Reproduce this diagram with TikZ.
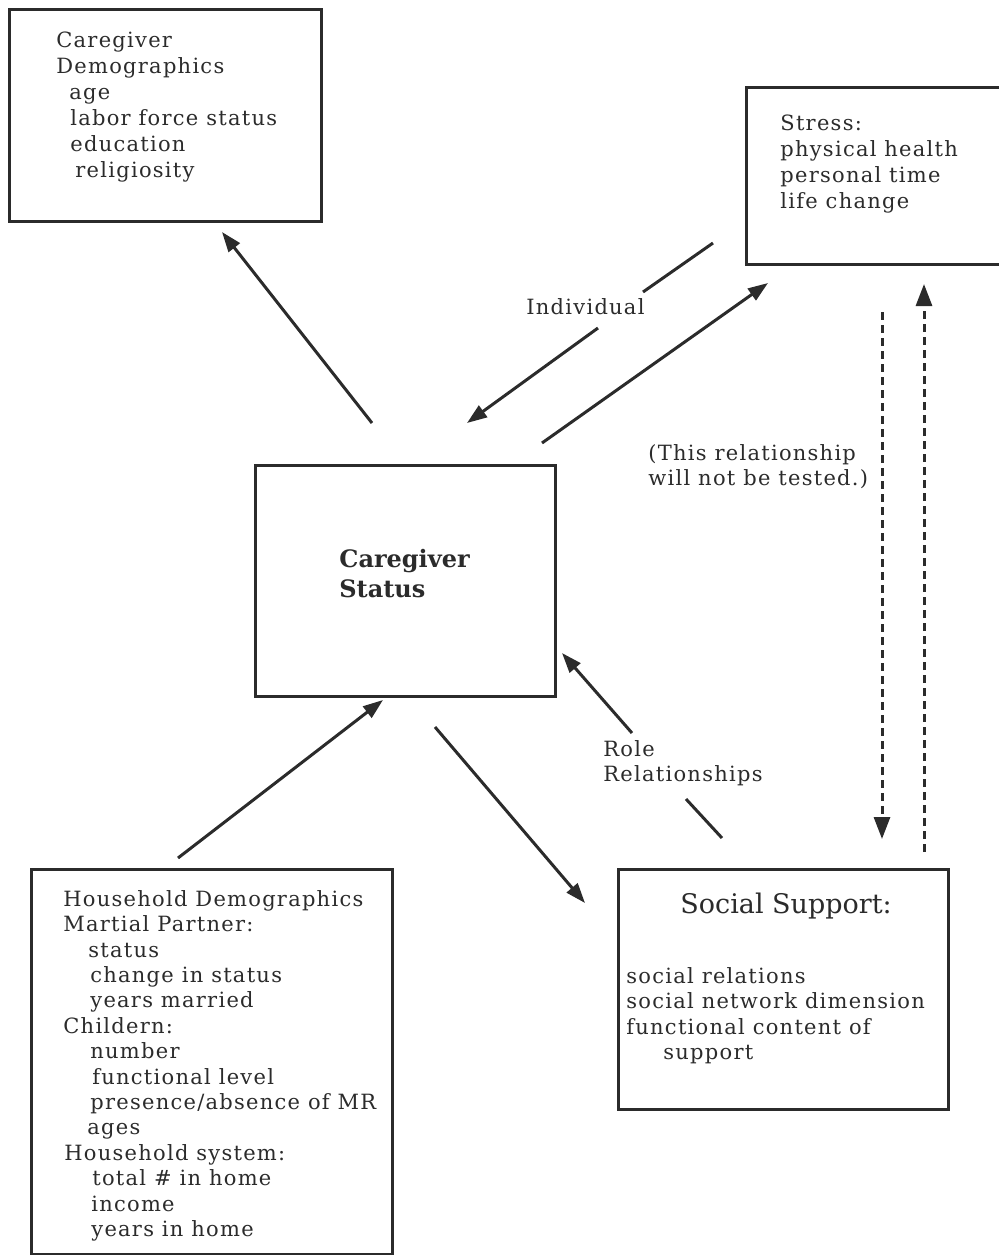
\documentclass[tikz,border=0pt]{standalone}
\usepackage{fontspec}
\setmainfont{DejaVu Serif}[LetterSpace=6]
\newfontfamily\plainserif{DejaVu Serif}
\newfontfamily\boldserif{DejaVu Serif Bold}
\usetikzlibrary{arrows.meta}
\definecolor{ink}{HTML}{2B2B2B}
\tikzset{
  frame/.style={draw=ink, line width=1.5pt, anchor=north west, inner sep=0pt},
  txt/.style={anchor=north west, inner sep=0pt, align=left, text=ink,
              font=\fontsize{10.5}{13}\selectfont},
  link/.style={draw=ink, line width=1.5pt, -{Triangle[length=10pt,width=7pt]}},
  plainlink/.style={draw=ink, line width=1.5pt},
  dashlink/.style={draw=ink, line width=1.5pt, dash pattern=on 4pt off 2.5pt,
                   -{Triangle[length=11pt,width=8pt]}},
}
\begin{document}
\begin{tikzpicture}[x=0.5pt, y=-0.5pt]
\useasboundingbox (0,0) rectangle (999,1255);

% boxes
\node[frame, minimum width=156pt, minimum height=106pt] (demo) at (8,8) {};
\node[frame, minimum width=129pt, minimum height=88.5pt] (stress) at (745,86) {};
\node[frame, minimum width=150pt, minimum height=115.5pt] (status) at (254,464) {};
\node[frame, minimum width=180.5pt, minimum height=192.5pt] (house) at (30,868) {};
\node[frame, minimum width=165pt, minimum height=120pt] (support) at (617,868) {};

% box contents
\node[txt] (demotxt) at (56,32) {Caregiver\\ Demographics\\
  \hspace*{6.5pt}age\\ \hspace*{7pt}labor force status\\
  \hspace*{7pt}education\\ \hspace*{9.5pt}religiosity};
\node[txt] (stresstxt) at (780,115) {Stress:\\ physical health\\ personal time\\ life change};
\node[txt, font=\fontsize{12}{15}\selectfont\boldserif] (statustxt) at (339,549) {Caregiver\\ Status};
\node[txt, font=\fontsize{10.5}{12.7}\selectfont] (housetxt) at (63,890) {Household Demographics\\
  Martial Partner:\\ \hspace*{12.5pt}status\\ \hspace*{13.5pt}change in status\\
  \hspace*{13.5pt}years married\\ Childern:\\ \hspace*{13.5pt}number\\
  \hspace*{14.5pt}functional level\\ \hspace*{13.5pt}presence/absence of MR\\
  \hspace*{12pt}ages\\ \hspace*{0.5pt}Household system:\\ \hspace*{14.5pt}total \# in home\\
  \hspace*{14pt}income\\ \hspace*{14pt}years in home};
\node[txt, font=\fontsize{13.5}{16}\selectfont\plainserif] (supporttitle) at (680,893) {Social Support:};
\node[txt, font=\fontsize{10.5}{12.7}\selectfont] (supporttxt) at (626,967) {social relations\\
  social network dimension\\ functional content of\\ \hspace*{18.5pt}support};

% connector labels
\node[txt] (indiv) at (526,298) {Individual};
\node[txt, font=\fontsize{10.5}{12.5}\selectfont] (role) at (603,740) {Role\\ Relationships};
\node[txt, font=\fontsize{10.5}{12.5}\selectfont] (note) at (648,444) {(This relationship\\ will not be tested.)};

% connector end points
\coordinate (a1s) at (372,423);  \coordinate (a1e) at (222,232);
\coordinate (a2s) at (713,243);  \coordinate (a2m) at (643,292);
\coordinate (a2n) at (598,328);  \coordinate (a2e) at (467,423);
\coordinate (a3s) at (542,443);  \coordinate (a3e) at (768,283);
\coordinate (a4s) at (178,858);  \coordinate (a4e) at (383,700);
\coordinate (a5s) at (435,727);  \coordinate (a5e) at (585,903);
\coordinate (a6s) at (722,838);  \coordinate (a6m) at (686,799);
\coordinate (a6n) at (632,733);  \coordinate (a6e) at (562,653);
\coordinate (a7s) at (882,312);  \coordinate (a7e) at (882,839);
\coordinate (a8s) at (924,852);  \coordinate (a8e) at (924,284);

% connectors
\draw[link] (a1s) -- (a1e);
\draw[plainlink] (a2s) -- (a2m);
\draw[link] (a2n) -- (a2e);
\draw[link] (a3s) -- (a3e);
\draw[link] (a4s) -- (a4e);
\draw[link] (a5s) -- (a5e);
\draw[plainlink] (a6s) -- (a6m);
\draw[link] (a6n) -- (a6e);
\draw[dashlink] (a7s) -- (a7e);
\draw[dashlink] (a8s) -- (a8e);
\end{tikzpicture}
\end{document}
